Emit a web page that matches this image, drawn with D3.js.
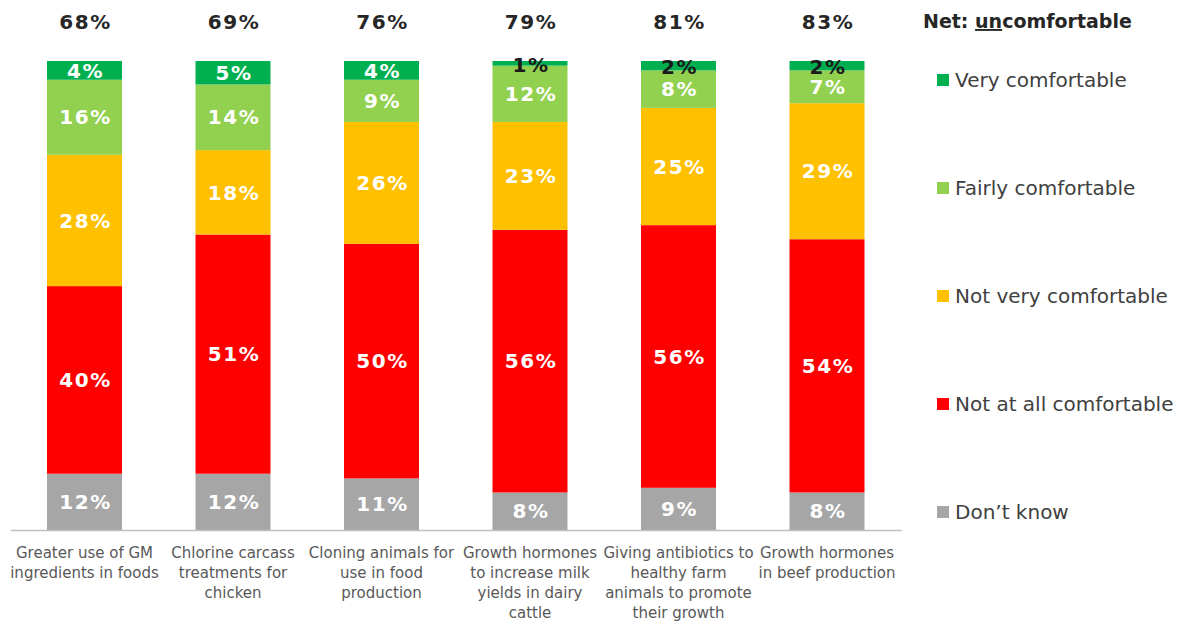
<!DOCTYPE html>
<html>
<head>
<meta charset="utf-8">
<script src="https://cdn.jsdelivr.net/npm/d3@7"></script>
<style>
  html, body { margin: 0; padding: 0; background: #fff; }
  svg { display: block; }
  text { font-family: "DejaVu Sans", Verdana, sans-serif; }
</style>
</head>
<body>
<svg id="chart" width="1183" height="622"></svg>
<script>
const categories = [
  "Greater use of GM ingredients in foods",
  "Chlorine carcass treatments for chicken",
  "Cloning animals for use in food production",
  "Growth hormones to increase milk yields in dairy cattle",
  "Giving antibiotics to healthy farm animals to promote their growth",
  "Growth hormones in beef production"
];
const categoryLines = [
  ["Greater use of GM", "ingredients in foods"],
  ["Chlorine carcass", "treatments for", "chicken"],
  ["Cloning animals for", "use in food", "production"],
  ["Growth hormones", "to increase milk", "yields in dairy", "cattle"],
  ["Giving antibiotics to", "healthy farm", "animals to promote", "their growth"],
  ["Growth hormones", "in beef production"]
];
const seriesNames = ["Don't know", "Not at all comfortable", "Not very comfortable", "Fairly comfortable", "Very comfortable"];
const dontKnow   = [12, 12, 11, 8, 9, 8];
const notAtAll   = [40, 51, 50, 56, 56, 54];
const notVery    = [28, 18, 26, 23, 25, 29];
const fairly     = [16, 14, 9, 12, 8, 7];
const very       = [4, 5, 4, 1, 2, 2];
const netUncomfortable = [68, 69, 76, 79, 81, 83];
const colors = ["#A6A6A6", "#FF0000", "#FFC000", "#92D050", "#00B050"];
const legendLabels = ["Very comfortable", "Fairly comfortable", "Not very comfortable", "Not at all comfortable", "Don\u2019t know"];
const legendColors = ["#00B050", "#92D050", "#FFC000", "#FF0000", "#A6A6A6"];

const seriesValues = [dontKnow, notAtAll, notVery, fairly, very];
const table = categories.map((c, i) => {
  const row = { category: c };
  seriesNames.forEach((s, k) => row[s] = seriesValues[k][i]);
  return row;
});
const stacked = d3.stack().keys(seriesNames)(table);

const svg = d3.select("#chart");
const x = d3.scaleBand().domain(categories).range([10.25, 901.25]).paddingInner(0.495).paddingOuter(0.2475);
const y = d3.scaleLinear().domain([0, 100]).range([530, 61]);

const g = svg.append("g");
stacked.forEach((layer, k) => {
  const lg = g.append("g").attr("fill", colors[k]);
  lg.selectAll("rect").data(layer).enter().append("rect")
    .attr("x", d => x(d.data.category))
    .attr("width", x.bandwidth())
    .attr("y", d => y(d[1]))
    .attr("height", d => y(d[0]) - y(d[1]));
});

// value labels
stacked.forEach((layer, k) => {
  g.append("g").selectAll("text").data(layer).enter().append("text")
    .attr("x", d => x(d.data.category) + x.bandwidth() / 2 + 1)
    .attr("y", d => (y(d[0]) + y(d[1])) / 2 + ((d[1] - d[0]) < 3 ? 1 : 0))
    .attr("dy", "0.36em")
    .attr("text-anchor", "middle")
    .attr("font-size", 20)
    .attr("letter-spacing", 1.5)
    .attr("font-weight", "bold")
    .attr("fill", d => (d[1] - d[0]) < 3 ? "#1a1a1a" : "#ffffff")
    .text(d => (d[1] - d[0]) + "%");
});

// baseline axis
const axis = d3.axisBottom(x).tickSize(0).tickFormat("");
const ax = svg.append("g").attr("transform", "translate(0,530)").call(axis);
ax.select(".domain").attr("stroke", "#bfbfbf").attr("stroke-width", 1.5);

// category labels
categories.forEach((c, i) => {
  const t = svg.append("text")
    .attr("x", x(c) + x.bandwidth() / 2)
    .attr("y", 558)
    .attr("text-anchor", "middle")
    .attr("font-size", 15)
    .attr("fill", "#595959");
  categoryLines[i].forEach((ln, j) => {
    t.append("tspan").attr("x", x(c) + x.bandwidth() / 2).attr("dy", j === 0 ? 0 : 20).text(ln);
  });
});

// net labels
svg.append("g").selectAll("text").data(categories).enter().append("text")
  .attr("x", c => x(c) + x.bandwidth() / 2 + 1)
  .attr("y", 29)
  .attr("text-anchor", "middle")
  .attr("font-size", 20)
  .attr("letter-spacing", 1.5)
  .attr("font-weight", "bold")
  .attr("fill", "#262626")
  .text((c, i) => netUncomfortable[i] + "%");

const net = svg.append("text").attr("x", 923).attr("y", 28)
  .attr("font-size", 19).attr("font-weight", "bold").attr("fill", "#262626");
net.append("tspan").text("Net: ");
net.append("tspan").attr("text-decoration", "underline").text("un");
net.append("tspan").text("comfortable");

// legend
const leg = svg.append("g");
legendLabels.forEach((l, i) => {
  const yy = 80 + i * 108;
  leg.append("rect").attr("x", 937).attr("y", yy - 6).attr("width", 12).attr("height", 12).attr("fill", legendColors[i]);
  leg.append("text").attr("x", 955).attr("y", yy).attr("dy", "0.35em")
    .attr("font-size", 20).attr("fill", "#404040").text(l);
});
</script>
</body>
</html>
